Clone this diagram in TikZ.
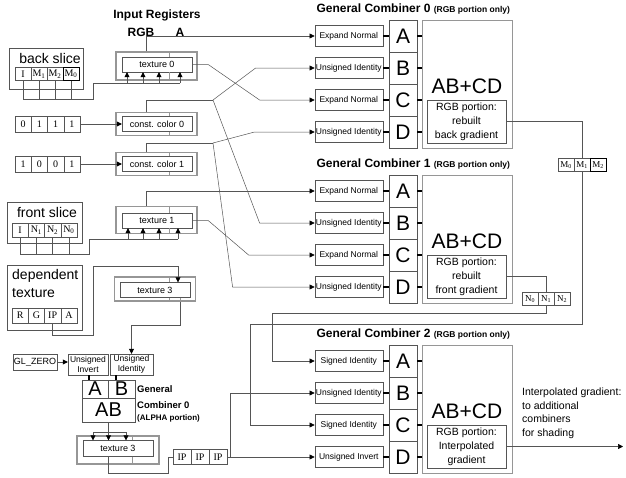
\documentclass[tikz,border=0pt]{standalone}
\usepackage{fontspec}
\setmainfont{Liberation Sans}
\newfontfamily\cellfont{Liberation Serif}
\usetikzlibrary{arrows.meta, positioning}
\definecolor{wireGray}{RGB}{85,85,85}
\definecolor{regGray}{RGB}{150,150,150}

\begin{document}
\begin{tikzpicture}[x=1pt, y=-1pt,
    wire/.style={draw=wireGray, line width=0.5pt},
    arr/.style={wire, -{Triangle[length=5pt, width=5pt, color=black]}},
    tick/.style={draw=black, line width=1.5pt},
    mode/.style={draw=wireGray, minimum width=68pt, minimum height=21pt, inner sep=0pt,
                 font=\fontsize{8.5}{9}\selectfont},
    letter/.style={draw=wireGray, outer sep=0pt, minimum width=28pt, minimum height=32pt,
                   inner sep=0pt, font=\fontsize{21}{21}\selectfont},
    sumbox/.style={draw=regGray, line width=0.8pt, minimum width=90pt, minimum height=128pt, inner sep=0pt},
    resbox/.style={draw=wireGray, minimum width=79pt, minimum height=43pt, inner sep=0pt,
                   align=center, font=\fontsize{10.5}{14}\selectfont},
    regbox/.style={draw=regGray, line width=1.2pt, minimum width=81pt, minimum height=28pt, inner sep=0pt},
    regin/.style={draw=wireGray, minimum width=70pt, minimum height=15pt, inner sep=0pt,
                  font=\fontsize{9}{9}\selectfont},
    divider/.style={draw=regGray, line width=0.8pt},
    bit/.style={draw=wireGray, outer sep=0pt, minimum width=16.25pt, minimum height=14pt, inner sep=0pt,
                font=\cellfont\fontsize{10}{10}\selectfont},
    slice/.style={draw=wireGray, inner sep=0pt},
    big/.style={font=\fontsize{14}{18}\selectfont},
    head/.style={font=\bfseries\fontsize{12}{12}\selectfont},
    abox/.style={draw=wireGray, minimum height=21pt, inner sep=0pt, align=center,
                 font=\fontsize{8.5}{9.5}\selectfont},
    acell/.style={draw=wireGray, outer sep=0pt, inner sep=0pt, font=\fontsize{20}{20}\selectfont}
]
\useasboundingbox (0,0) rectangle (626,477);

% general combiners (RGB portion)
\foreach \k/\y in {0/36, 1/191, 2/361} {
  \node[letter] (c\k-a) at (403,\y) {A};
  \node[letter, below=0pt of c\k-a] (c\k-b) {B};
  \node[letter, below=0pt of c\k-b] (c\k-c) {C};
  \node[letter, below=0pt of c\k-c] (c\k-d) {D};
  \node[sumbox] (sum\k) at (467,{\y+48}) {};
  \node[font=\fontsize{21}{21}\selectfont] (abcd\k) at (467,{\y+50}) {AB+CD};
  \node[head, anchor=west] (title\k) at (313,{\y-27}) {General Combiner \k\ {\fontsize{8.5}{8.5}\selectfont(RGB portion only)}};
}
\node[mode, left=6pt of c0-a] (m0-a) {Expand Normal};
\node[mode, left=6pt of c0-b] (m0-b) {Unsigned Identity};
\node[mode, left=6pt of c0-c] (m0-c) {Expand Normal};
\node[mode, left=6pt of c0-d] (m0-d) {Unsigned Identity};
\node[mode, left=6pt of c1-a] (m1-a) {Expand Normal};
\node[mode, left=6pt of c1-b] (m1-b) {Unsigned Identity};
\node[mode, left=6pt of c1-c] (m1-c) {Expand Normal};
\node[mode, left=6pt of c1-d] (m1-d) {Unsigned Identity};
\node[mode, left=6pt of c2-a] (m2-a) {Signed Identity};
\node[mode, left=6pt of c2-b] (m2-b) {Unsigned Identity};
\node[mode, left=6pt of c2-c] (m2-c) {Signed Identity};
\node[mode, left=6pt of c2-d] (m2-d) {Unsigned Invert};
\foreach \k in {0,1,2}
  \foreach \r in {a,b,c,d} {
    \draw[tick] (m\k-\r.east) -- (c\k-\r.west);
    \draw[tick] (c\k-\r.east) -- (c\k-\r.east -| sum\k.west);
  }
\node[resbox] (r0) at (466.5,121.5) {RGB portion:\\rebuilt\\back gradient};
\node[resbox] (r1) at (466.5,276.5) {RGB portion:\\rebuilt\\front gradient};
\node[resbox] (r2) at (466.5,446.5) {RGB portion:\\Interpolated\\gradient};

% input registers
\node[head] (inreg) at (157,15) {Input Registers};
\node[head] (rgblab) at (141,32) {RGB};
\node[head] (alab) at (180,32) {A};

\node[regbox] (t0box) at (156.5,66) {};
\node[regin] (t0) at (157,64.5) {texture 0};
\node[regbox, minimum height=23pt] (k0box) at (156.5,124) {};
\node[regin] (k0) at (157,124) {const. color 0};
\node[regbox, minimum height=23pt] (k1box) at (156.5,164) {};
\node[regin] (k1) at (157,164) {const. color 1};
\node[regbox, minimum height=27pt] (t1box) at (156.5,220) {};
\node[regin] (t1) at (157,220.5) {texture 1};
\node[regbox, minimum height=24pt] (t3box) at (155,289) {};
\node[regin] (t3) at (155,290) {texture 3};
\foreach \a/\b in {t0box/t0, k0box/k0, k1box/k1, t1box/t1, t3box/t3} {
  \draw[divider] (\a.north -| 169,0) -- (\b.north -| 169,0);
  \draw[divider] (\b.south -| 169,0) -- (\a.south -| 169,0);
}

% back slice
\node[slice, minimum width=74pt, minimum height=41pt] (bs) at (46,68.5) {};
\node[big] (bslab) at (50,58) {back slice};
\foreach \t [count=\i] in {I, M\textsubscript{1}, M\textsubscript{2}, M\textsubscript{0}}
  \node[bit, minimum width=16pt, minimum height=13pt] (b\i) at ({7+16*\i},74) {\t};
\draw[line width=1pt] (b4.north west) rectangle (b4.south east);
\coordinate (bus0) at (93,83);
\coordinate (bus0low) at (93,99);
\foreach \i in {1,...,4} \draw[wire] (b\i.south) -- (b\i.south |- bus0low);
\draw[wire] (b1.south |- bus0low) -- (bus0low) -- (bus0) -- (bus0 -| 180,0);
\foreach \x in {127,143,159,180} \draw[arr] (bus0 -| \x,0) -- (t0.south -| \x,0);

% constant colours
\foreach \v [count=\i] in {0,1,1,1}
  \node[bit, minimum height=16pt] (n0-\i) at ({6.875+16.25*\i},124) {\v};
\foreach \v [count=\i] in {1,0,0,1}
  \node[bit, minimum height=16pt] (n1-\i) at ({6.875+16.25*\i},164) {\v};
\draw[arr] (n0-4.east) -- (n0-4.east -| k0.west);
\draw[arr] (n1-4.east) -- (n1-4.east -| k1.west);

% front slice
\node[slice, minimum width=75pt, minimum height=41pt] (fs) at (44.5,222.5) {};
\node[big] (fslab) at (47,212) {front slice};
\foreach \t [count=\i] in {I, N\textsubscript{1}, N\textsubscript{2}, N\textsubscript{0}}
  \node[bit] (f\i) at ({3.875+16.25*\i},230) {\t};
\coordinate (bus1) at (89,239);
\coordinate (bus1low) at (89,254);
\foreach \i in {1,...,4} \draw[wire] (f\i.south) -- (f\i.south |- bus1low);
\draw[wire] (f1.south |- bus1low) -- (bus1low) -- (bus1) -- (bus1 -| 178,0);
\foreach \x in {128,143,159,178} \draw[arr] (bus1 -| \x,0) -- (t1.south -| \x,0);

% dependent texture
\node[slice, minimum width=75pt, minimum height=65pt] (dt) at (44.5,297.5) {};
\node[big, anchor=north west, align=left, inner sep=0pt] (dtlab) at (12,269) {dependent\\texture};
\foreach \t [count=\i] in {R, G, IP, A}
  \node[bit, minimum height=15pt] (d\i) at ({3.875+16.25*\i},315.5) {\t};
\coordinate (dep0) at (93,335);
\coordinate (dep1) at (93,266);
\draw[arr] (d3.south) |- (dep0) -- (dep1) -| (t3.north -| 178,0);

% register wires to the combiners
\draw[arr] (t0box.north -| 146,0) |- (m0-a.west);
\draw[arr] (t1box.north -| 146,0) |- (m1-a.west);
\coordinate (s0) at (213,100);
\coordinate (s1) at (213,143);
\draw[wire] (k0box.north -| 146,0) |- (s0);
\draw[arr] (s0) -- ([xshift=-59pt]m0-b.west) -- (m0-b.west);
\draw[arr] (s0) -- ([xshift=-55pt]m1-b.west) -- (m1-b.west);
\draw[wire] (k1box.north -| 146,0) |- (s1);
\draw[arr] (s1) -- ([xshift=-60pt]m0-d.west) -- (m0-d.west);
\draw[arr] (s1) -- ([xshift=-82pt]m1-d.west) -- (m1-d.west);
\draw[arr] (t0.east) -- ++(16,0) -- ([xshift=-55pt]m0-c.west) -- (m0-c.west);
\draw[arr] (t1.east) -- ++(16,0) -- ([xshift=-66pt]m1-c.west) -- (m1-c.west);

% general combiner 0 (alpha portion)
\node[regin, minimum width=44pt, minimum height=16pt] (gz) at (35,362) {GL\_ZERO};
\node[abox, minimum width=40pt] (ainv) at (88,364.5) {Unsigned\\Invert};
\node[abox, minimum width=43pt] (aid) at (131.5,364.5) {Unsigned\\Identity};
\draw[arr] (gz.east) -- (gz.east -| ainv.west);
\coordinate (t3out) at (180,325);
\draw[divider] (t3.south -| 180,0) -- (t3box.south -| 180,0);
\draw[arr] (t3box.south -| 180,0) -- (t3out) -| (aid.north);
\node[acell, minimum width=26pt, minimum height=18pt] (ca) at (95,389) {A};
\node[acell, minimum width=27pt, minimum height=18pt] (cb) at (121.5,389) {B};
\node[acell, minimum width=53pt, minimum height=24pt] (cab) at (108.5,410) {AB};
\draw[tick] (ainv.south -| 89,0) -- (ca.north -| 89,0);
\draw[tick] (aid.south -| 116,0) -- (cb.north -| 116,0);
\node[anchor=west, inner sep=0pt, font=\bfseries\fontsize{9.5}{9.5}\selectfont] (agen) at (137,389) {General};
\node[anchor=west, inner sep=0pt, font=\bfseries\fontsize{9.5}{9.5}\selectfont] (acomb) at (137,405) {Combiner 0};
\node[anchor=west, inner sep=0pt, font=\bfseries\fontsize{8}{8}\selectfont] (aport) at (137,418) {(ALPHA portion)};
\coordinate (ab0) at (108.5,432);
\draw[wire] (cab.south) -- (ab0);
\draw[wire] (ab0 -| 93,0) -- (ab0 -| 126,0);

\node[regbox, minimum width=82pt] (t3bbox) at (118,450) {};
\node[regin, minimum height=16pt] (t3b) at (118,448.5) {texture 3};
\draw[divider] (t3bbox.north -| 132,0) -- (t3b.north -| 132,0);
\draw[divider] (t3b.south -| 132,0) -- (t3bbox.south -| 132,0);
\foreach \x in {93,108.5,126} \draw[arr] (ab0 -| \x,0) -- (t3b.north -| \x,0);

\foreach \i in {1,2,3}
  \node[bit, minimum width=18pt, minimum height=15pt] (ip\i) at ({164+18*\i},457) {IP};
\coordinate (t3low) at (168,473);
\draw[wire] (t3b.south -| 108.5,0) |- (t3low) |- (ip1.west);
\draw[arr] (ip3.east) -- (m2-d.west);
\coordinate (ipj) at (230,457);
\draw[arr] (ipj) |- (m2-b.west);

% rebuilt gradients back into combiner 2
\foreach \t [count=\i] in {M\textsubscript{0}, M\textsubscript{1}, M\textsubscript{2}}
  \node[bit, minimum width=16pt, minimum height=13pt, font=\cellfont\fontsize{9}{9}\selectfont] (mc\i) at ({550+16*\i},165) {\t};
\draw[line width=1pt] (mc3.north west) rectangle (mc3.south east);
\foreach \t [count=\i] in {N\textsubscript{0}, N\textsubscript{1}, N\textsubscript{2}}
  \node[bit, minimum width=16pt, minimum height=13pt, font=\cellfont\fontsize{9}{9}\selectfont] (nc\i) at ({514+16*\i},299) {\t};
\draw[line width=1pt, draw=wireGray] (nc3.north west) rectangle (nc3.south east);
\draw[wire] (r0.east) -| (mc2.north);
\coordinate (mret) at (250,324);
\draw[arr] (mc2.south) |- (mret) |- (m2-c.west);
\draw[wire] (r1.east) -| (nc2.north);
\coordinate (nret) at (272,313);
\draw[arr] (nc2.south) |- (nret) |- (m2-a.west);

% output
\coordinate (out) at (623,446.5);
\draw[arr] (r2.east) -- (out);
\node[anchor=north west, align=left, inner sep=0pt, font=\fontsize{10.5}{13.5}\selectfont] (outlab) at (522,388)
  {Interpolated gradient:\\to additional\\combiners\\for shading};
\end{tikzpicture}
\end{document}
